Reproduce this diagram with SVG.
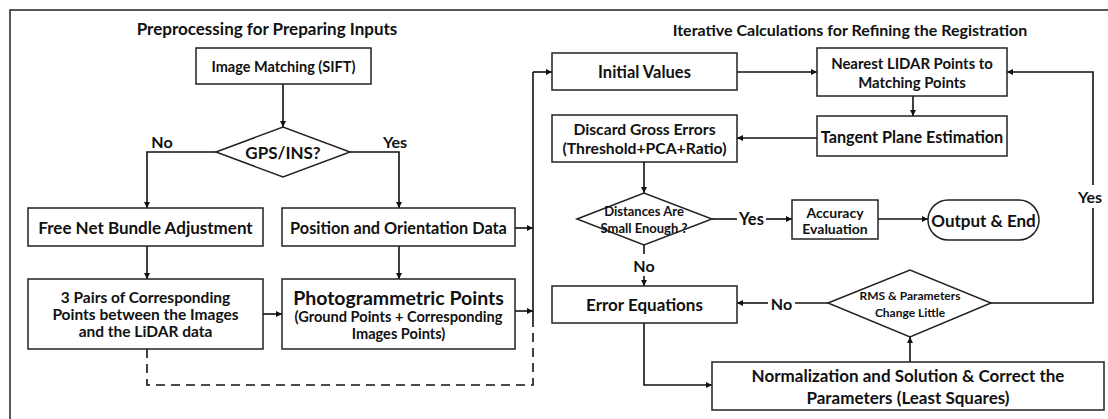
<svg xmlns="http://www.w3.org/2000/svg" width="1108" height="419" viewBox="0 0 1108 419">
<defs>
<marker id="ah" viewBox="0 0 10 10" refX="10" refY="5" markerWidth="6" markerHeight="6" orient="auto" markerUnits="userSpaceOnUse"><path d="M0,0 L10,5 L0,10 z" fill="#111"/></marker>
<style>
.box{fill:#fff;stroke:#222;stroke-width:1.5}
.t{font-family:Lato,"Liberation Sans",sans-serif;font-weight:bold;fill:#111;text-anchor:middle;dominant-baseline:central}
.c{fill:none;stroke:#111;stroke-width:1.6}
.a{fill:none;stroke:#111;stroke-width:1.6;marker-end:url(#ah)}
.d{fill:none;stroke:#111;stroke-width:1.6;stroke-dasharray:9,6}
</style>
</defs>
<rect x="0" y="0" width="1108" height="419" fill="#fff"/>
<path d="M10,419 V10 H1108" fill="none" stroke="#222" stroke-width="1.5"/>
<text class="t" x="267" y="28" font-size="17">Preprocessing for Preparing Inputs</text>
<text class="t" x="850" y="29" font-size="16">Iterative Calculations for Refining the Registration</text>

<g id="connectors">
<path class="a" d="M283,84 V127"/>
<path class="a" d="M216,152 H147 V208"/>
<path class="a" d="M350,152 H399 V208"/>
<path class="a" d="M147,246 V279"/>
<path class="a" d="M399,246 V279"/>
<path class="a" d="M263,314 H282"/>
<path class="a" d="M515,228 H533"/>
<path class="a" d="M515,311 H533"/>
<path class="c" d="M533,322 V72"/>
<path class="d" d="M147,349 V385 H533 V322"/>
<path class="a" d="M533,72 H552"/>
<path class="a" d="M737,72 H817"/>
<path class="a" d="M913,96 V116"/>
<path class="a" d="M817,138 H737"/>
<path class="a" d="M644,162 V193"/>
<path class="c" d="M712,219 H737"/>
<path class="a" d="M766,219 H792"/>
<path class="a" d="M878,219 H928"/>
<path class="c" d="M644,245 V254"/>
<path class="a" d="M644,276 V286"/>
<path class="c" d="M828,303 H795"/>
<path class="a" d="M768,303 H737"/>
<path class="a" d="M644,323 V385 H712"/>
<path class="a" d="M910,362 V337"/>
<path class="c" d="M991,303 H1093 V208"/>
<path class="a" d="M1093,185 V72 H1007"/>
<text class="t" x="162" y="141" font-size="16">No</text>
<text class="t" x="395" y="141" font-size="16">Yes</text>
<text class="t" x="751.5" y="219" font-size="16.5">Yes</text>
<text class="t" x="644" y="265" font-size="16">No</text>
<text class="t" x="781.5" y="303" font-size="16">No</text>
<text class="t" x="1090" y="196" font-size="16">Yes</text>
</g>

<g id="n-sift"><rect class="box" x="196" y="48" width="175" height="36"/><text class="t" x="283.5" y="66" font-size="14.5">Image Matching (SIFT)</text></g>
<g id="n-gps"><polygon class="box" points="216,152 283,127 350,152 283,177"/><text class="t" x="283" y="152" font-size="17">GPS/INS?</text></g>
<g id="n-freenet"><rect class="box" x="28" y="208" width="235" height="38"/><text class="t" x="145.5" y="227" font-size="17">Free Net Bundle Adjustment</text></g>
<g id="n-pos"><rect class="box" x="282" y="208" width="233" height="38"/><text class="t" x="398.5" y="227" font-size="16.3">Position and Orientation Data</text></g>
<g id="n-pairs"><rect class="box" x="28" y="279" width="235" height="70"/>
<text class="t" x="145.5" y="297" font-size="15.5">3 Pairs of Corresponding</text>
<text class="t" x="145.5" y="314" font-size="15.5">Points between the Images</text>
<text class="t" x="145.5" y="331" font-size="15.5">and the LiDAR data</text></g>
<g id="n-photo"><rect class="box" x="282" y="279" width="233" height="70"/>
<text class="t" x="398.5" y="297" font-size="19.5">Photogrammetric Points</text>
<text class="t" x="398.5" y="316" font-size="14.6">(Ground Points + Corresponding</text>
<text class="t" x="398.5" y="333" font-size="14.6">Images Points)</text></g>

<g id="n-init"><rect class="box" x="552" y="53" width="185" height="37"/><text class="t" x="644.5" y="71.5" font-size="16.5">Initial Values</text></g>
<g id="n-nearest"><rect class="box" x="817" y="48" width="190" height="48"/>
<text class="t" x="912" y="63" font-size="14.9">Nearest LIDAR Points to</text>
<text class="t" x="912" y="82" font-size="14.9">Matching Points</text></g>
<g id="n-tangent"><rect class="box" x="817" y="116" width="190" height="40"/><text class="t" x="912" y="136" font-size="16.2">Tangent Plane Estimation</text></g>
<g id="n-discard"><rect class="box" x="552" y="115" width="185" height="47"/>
<text class="t" x="644.5" y="129" font-size="15.7">Discard Gross Errors</text>
<text class="t" x="644.5" y="148" font-size="15.7">(Threshold+PCA+Ratio)</text></g>
<g id="n-dist"><polygon class="box" points="577,219 644,193 712,219 644,245"/>
<text class="t" x="644" y="211" font-size="13">Distances Are</text>
<text class="t" x="644" y="228" font-size="13">Small Enough ?</text></g>
<g id="n-acc"><rect class="box" x="792" y="200" width="86" height="39"/>
<text class="t" x="835" y="212" font-size="14">Accuracy</text>
<text class="t" x="835" y="228" font-size="14">Evaluation</text></g>
<g id="n-end"><rect class="box" x="928" y="200" width="111" height="40" rx="20" ry="20"/><text class="t" x="983.5" y="220" font-size="17">Output &amp; End</text></g>
<g id="n-err"><rect class="box" x="552" y="286" width="185" height="37"/><text class="t" x="644.5" y="304.5" font-size="17">Error Equations</text></g>
<g id="n-rms"><polygon class="box" points="828,303 910,270 991,303 910,337"/>
<text class="t" x="910" y="295" font-size="12">RMS &amp; Parameters</text>
<text class="t" x="910" y="312" font-size="12">Change Little</text></g>
<g id="n-norm"><rect class="box" x="712" y="362" width="392" height="48"/>
<text class="t" x="908" y="375" font-size="17">Normalization and Solution &amp; Correct the</text>
<text class="t" x="908" y="397" font-size="17">Parameters (Least Squares)</text></g>
</svg>
